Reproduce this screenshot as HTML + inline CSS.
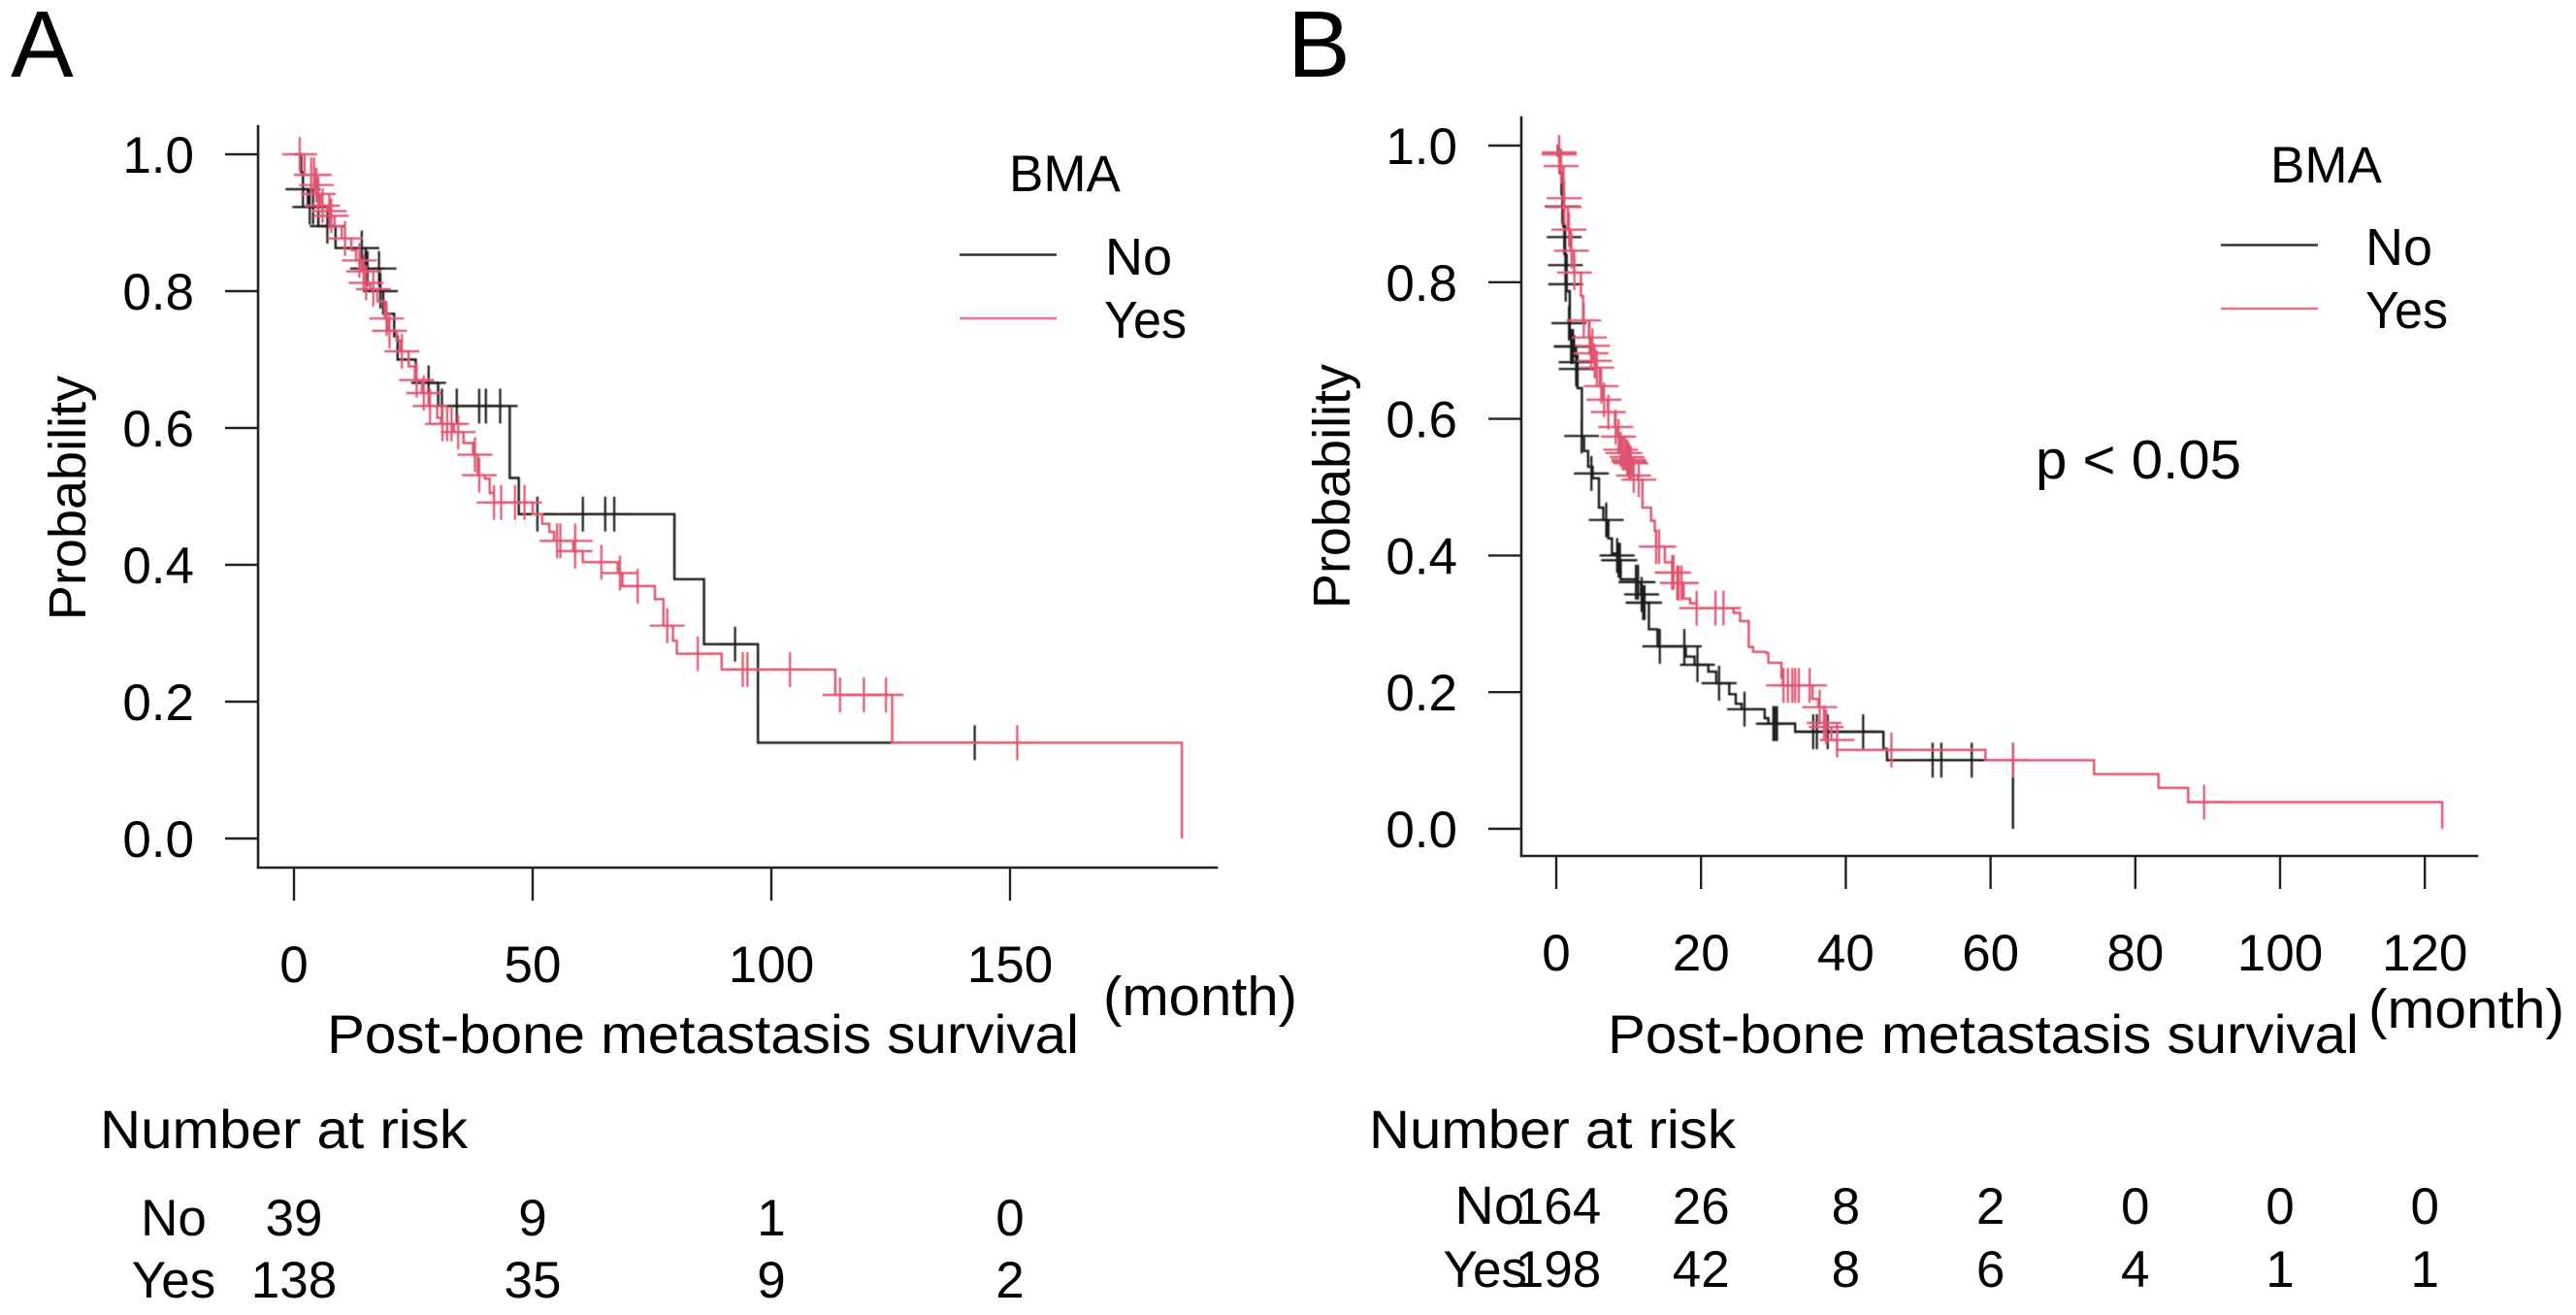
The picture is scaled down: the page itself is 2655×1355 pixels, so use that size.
<!DOCTYPE html>
<html lang="en">
<head>
<meta charset="utf-8">
<title>Post-bone metastasis survival by BMA</title>
<style>
html,body{margin:0;padding:0;background:#fff;}
svg{display:block;}
text{font-family:"Liberation Sans",Arial,sans-serif;fill:#000;}
</style>
</head>
<body>
<svg id="chart" xmlns="http://www.w3.org/2000/svg" width="2655" height="1355" viewBox="0 0 2655 1355">
  <defs>
    <filter id="soft" x="-5%" y="-5%" width="110%" height="110%"><feGaussianBlur stdDeviation="0.45"/></filter>
  </defs>
  <rect width="2655" height="1355" fill="#fff"/>

  <text x="11" y="79" font-size="97">A</text>
  <text x="1327" y="79" font-size="97">B</text>

  <text transform="translate(88 513) rotate(-90)" text-anchor="middle" font-size="54">Probability</text>
  <text transform="translate(1391 501) rotate(-90)" text-anchor="middle" font-size="54">Probability</text>

  <text x="337" y="1085" font-size="56" textLength="775" lengthAdjust="spacingAndGlyphs">Post-bone metastasis survival</text>
  <text x="1657" y="1085" font-size="56" textLength="774" lengthAdjust="spacingAndGlyphs">Post-bone metastasis survival</text>
  <text x="1137" y="1046" font-size="57" textLength="200" lengthAdjust="spacingAndGlyphs">(month)</text>
  <text x="2441" y="1059" font-size="57" textLength="202" lengthAdjust="spacingAndGlyphs">(month)</text>

  <text x="1040" y="197" font-size="53">BMA</text>
  <line x1="989" x2="1089" y1="262.5" y2="262.5" stroke="#333" stroke-width="2.4"/>
  <line x1="989" x2="1089" y1="328" y2="328" stroke="#e8738a" stroke-width="2.6"/>
  <text x="1139" y="283" font-size="54">No</text>
  <text x="1138" y="348" font-size="54" textLength="85" lengthAdjust="spacingAndGlyphs">Yes</text>

  <text x="2340" y="188" font-size="53">BMA</text>
  <line x1="2289" x2="2389" y1="252.5" y2="252.5" stroke="#333" stroke-width="2.4"/>
  <line x1="2289" x2="2389" y1="318" y2="318" stroke="#e8738a" stroke-width="2.6"/>
  <text x="2438" y="273" font-size="54">No</text>
  <text x="2438" y="338" font-size="54" textLength="85" lengthAdjust="spacingAndGlyphs">Yes</text>

  <text x="2098" y="493" font-size="57" textLength="212" lengthAdjust="spacingAndGlyphs">p &lt; 0.05</text>

  <text x="103" y="1183" font-size="56" textLength="379" lengthAdjust="spacingAndGlyphs">Number at risk</text>
  <text x="1411" y="1183" font-size="56" textLength="378" lengthAdjust="spacingAndGlyphs">Number at risk</text>
  <text x="179" y="1273" font-size="53" text-anchor="middle">No</text>
  <text x="179" y="1337" font-size="53" text-anchor="middle">Yes</text>
  <text x="1571" y="1261" font-size="56" text-anchor="end">No</text>
  <text x="1574" y="1326" font-size="53" text-anchor="end">Yes</text>

  <g id="marks"></g>
</svg>
<script>
// shared y axis ticks
const probabilityTicks = [0, 0.2, 0.4, 0.6, 0.8, 1];
const probabilityTickLabels = ['0.0', '0.2', '0.4', '0.6', '0.8', '1.0'];

// Panel A
const aMonthTicks = [0, 50, 100, 150];
const aRiskNo = [39, 9, 1, 0];
const aRiskYes = [138, 35, 9, 2];
const aNoTimes = [1.5,1.9,2.9,5.1,8.7,15,18,18.7,21,21.7,25.5,30.2,45.2,47.1,79.7,85.9,97.2,142.6];
const aNoSurv = [.974,.949,.923,.895,.863,.833,.8,.767,.734,.7,.666,.632,.527,.474,.379,.284,.14,.14];
const aNoCensorTimes = [1.9,3.3,4,7,14.2,15.4,17.8,18.1,28.2,31,34.1,38.8,40.2,43.2,51,60.5,65.2,67.1,92.4,142.6];
const aNoCensorSurv = [.949,.923,.923,.895,.863,.833,.833,.8,.666,.632,.632,.632,.632,.632,.474,.474,.474,.474,.284,.14];
const aYesTimes = [2.2,4.5,5,5.5,7,7.6,8.5,10,12,13,14.2,14.9,16,17.5,19,19.8,21.5,22.3,24,25.3,26.8,28.2,30,30.8,33.5,35.5,37.5,38.5,40,41,41.9,50,52,53.5,54.5,58.5,60.5,67.8,68.8,75.6,77.4,79.4,80.2,89.6,113.4,125.3,186,186];
const aYesSurv = [.97,.955,.942,.925,.917,.91,.895,.877,.86,.845,.829,.812,.803,.785,.76,.742,.728,.712,.69,.67,.651,.632,.615,.606,.594,.578,.561,.531,.526,.505,.491,.474,.46,.448,.435,.42,.404,.388,.369,.35,.311,.289,.27,.247,.21,.14,0,0];
const aYesCensorTimes = [1.2,3.6,4.2,4.7,5.1,6,7.4,7.8,10.7,13.7,14.6,15.1,16.6,19.4,20,22.6,25.7,27.2,28.5,31.1,32.1,33,34.4,37.9,38.8,41.9,43.4,46.3,48.3,55.1,55.8,58.9,58.9,64.4,68.3,72,78.2,84.6,94,95,103.9,114.4,119.4,124,151.5];
const aYesCensorSurv = [1,.97,.97,.955,.942,.925,.917,.91,.877,.845,.829,.812,.803,.76,.742,.712,.67,.651,.632,.606,.606,.606,.594,.561,.531,.491,.491,.491,.491,.435,.435,.435,.42,.404,.388,.369,.311,.27,.247,.247,.247,.21,.21,.21,.14];

// Panel B
const bMonthTicks = [0, 20, 40, 60, 80, 100, 120];
const bRiskNo = [164, 26, 8, 2, 0, 0, 0];
const bRiskYes = [198, 42, 8, 6, 4, 1, 1];
const bNoTimes = [.24,.5,.72,.96,1.2,1.44,1.86,2.45,2.93,3.54,3.83,4.4,5.03,5.9,6.5,7.2,7.7,8.6,8.9,11.2,11.7,12,12.8,14,17.9,19.1,21,22.1,23.9,24.8,25.6,28.8,29.3,33,45.2,45.7,63.1,63.1];
const bNoSurv = [.985,.96,.929,.882,.84,.787,.721,.692,.645,.574,.553,.53,.513,.47,.452,.425,.403,.393,.365,.361,.343,.331,.292,.267,.252,.24,.23,.213,.197,.183,.175,.162,.154,.142,.117,.1004,0,0];
const bNoCensorTimes = [.85,1.1,1.26,1.3,1.75,2.05,2.15,2.3,2.75,2.75,3.5,4.85,6.9,8.4,8.6,8.8,11,11.3,11.8,12,12.2,14.3,17.7,19.5,22.5,26,30,30.2,30.5,35.5,36,37.5,42.4,52,53.2,57.4,63.1];
const bNoCensorSurv = [.911,.866,.825,.797,.74,.706,.706,.706,.683,.673,.575,.52,.452,.4,.393,.393,.361,.361,.343,.331,.331,.267,.267,.24,.213,.175,.154,.154,.154,.142,.142,.142,.142,.1004,.1004,.1004,.1004];
const bYesTimes = [.35,.6,1,1.05,1.6,2,2.45,3.4,3.7,4.5,4.9,5,5.2,5.5,6,6.5,7.1,8.1,8.5,8.8,9.1,9.7,10,10.6,11.3,11.9,13.1,13.6,13.8,15,16,16.8,17.6,18.5,19.4,24.5,25.4,26.6,27.2,29,29.3,31.1,31.3,35.4,36.2,37,37.3,38,38.8,59.3,74.3,83.2,87.3,122.4,122.4];
const bYesSurv = [.99,.97,.923,.91,.877,.846,.814,.78,.744,.719,.707,.696,.685,.675,.648,.628,.61,.588,.574,.555,.55,.544,.537,.517,.511,.47,.451,.436,.413,.39,.375,.36,.337,.33,.323,.316,.304,.266,.259,.257,.243,.221,.21,.19,.178,.155,.149,.13,.1155,.1004,.08,.06,.039,0,0];
const bYesCensorTimes = [.4,.4,.67,1.1,1.1,1.75,2.1,2.5,3.8,4.6,5,4.8,5.3,5.6,6.2,6.6,7.2,8.2,8.6,8.9,9.2,9.5,9.8,10,10.1,10.3,10.7,11.4,13.8,14.2,16,16.2,16.7,16.9,17.3,19.4,22,23.1,31.4,32,32.6,33,33.5,35,36.4,37,37.3,38.8,46.3,63.1,89.5];
const bYesCensorSurv = [.99,.987,.97,.923,.91,.877,.846,.814,.744,.719,.707,.696,.685,.675,.648,.628,.61,.588,.574,.555,.55,.55,.544,.54,.537,.535,.517,.511,.413,.413,.375,.375,.36,.36,.36,.323,.323,.323,.21,.21,.21,.21,.21,.21,.178,.155,.149,.13,.1155,.1004,.039];

const SVG_NS = 'http://www.w3.org/2000/svg';
const marksLayer = document.getElementById('marks');
const AXIS_COLOR = '#222';
const NO_COLOR = '#1a1a1a';
const YES_COLOR = '#df5370';

function shape(parent, tag, props, text) {
  const node = document.createElementNS(SVG_NS, tag);
  for (const key in props) node.setAttribute(key, props[key]);
  if (text !== undefined) node.textContent = text;
  parent.appendChild(node);
  return node;
}

function stepPath(times, surv, xScale, yScale) {
  let d = 'M' + xScale(0) + ' ' + yScale(1);
  for (let i = 0; i < times.length; i++) {
    d += 'H' + xScale(times[i]).toFixed(1) + 'V' + yScale(surv[i]).toFixed(1);
  }
  return d;
}

function drawCurve(group, name, times, surv, censorT, censorS, color, xScale, yScale) {
  const line = shape(group, 'path', {d: stepPath(times, surv, xScale, yScale), fill: 'none', stroke: color, 'stroke-width': 2.4, 'stroke-linejoin': 'miter'});
  
  
  for (let i = 0; i < censorT.length; i++) {
    const cx = xScale(censorT[i]);
    const cy = yScale(censorS[i]);
    const mark = shape(group, 'path', {d: 'M' + (cx - 18).toFixed(1) + ' ' + cy.toFixed(1) + 'h36M' + cx.toFixed(1) + ' ' + (cy - 18).toFixed(1) + 'v36', fill: 'none', stroke: color, 'stroke-width': 2.2});
    
    
  }
}

function drawPanel(p) {
  const group = shape(marksLayer, 'g', {});
  
  
  const xScale = t => p.x0 + t * p.xPerMonth;
  const yScale = s => p.y0 - s * p.yPerUnit;

  const yAxis = shape(group, 'line', {x1: p.axisX, x2: p.axisX, y1: p.axisTop, y2: p.axisY, stroke: AXIS_COLOR, 'stroke-width': 2.6, 'stroke-linecap': 'square'});
  
  
  const xAxis = shape(group, 'line', {x1: p.axisX, x2: p.axisRight, y1: p.axisY, y2: p.axisY, stroke: AXIS_COLOR, 'stroke-width': 2.6, 'stroke-linecap': 'square'});
  
  

  probabilityTicks.forEach((value, i) => {
    const y = yScale(value);
    const tick = shape(group, 'line', {x1: p.axisX - 34, x2: p.axisX, y1: y, y2: y, stroke: AXIS_COLOR, 'stroke-width': 2.4});
    
    
    const label = shape(group, 'text', {x: p.yLabelX, y: y + 19, 'text-anchor': 'end', 'font-size': 53}, probabilityTickLabels[i]);
    
    
  });

  p.monthTicks.forEach((month, i) => {
    const x = xScale(month);
    const tick = shape(group, 'line', {x1: x, x2: x, y1: p.axisY, y2: p.axisY + 34, stroke: AXIS_COLOR, 'stroke-width': 2.4});
    
    
    const label = shape(group, 'text', {x: x, y: p.xLabelY, 'text-anchor': 'middle', 'font-size': 53}, String(month));
    
    
    const riskNo = shape(group, 'text', {x: x + (i === 0 ? p.riskShift : 0), y: p.riskNoY, 'text-anchor': 'middle', 'font-size': 53}, String(p.riskNo[i]));
    
    
    const riskYes = shape(group, 'text', {x: x + (i === 0 ? p.riskShift : 0), y: p.riskYesY, 'text-anchor': 'middle', 'font-size': 53}, String(p.riskYes[i]));
    
    
  });

  const curves = shape(group, 'g', {filter: 'url(#soft)'});
  
  
  drawCurve(curves, p.name + '-no', p.noT, p.noS, p.noCT, p.noCS, NO_COLOR, xScale, yScale);
  drawCurve(curves, p.name + '-yes', p.yesT, p.yesS, p.yesCT, p.yesCS, YES_COLOR, xScale, yScale);
}

drawPanel({
  name: 'panel-a', x0: 303, xPerMonth: 4.92, y0: 864, yPerUnit: 705,
  axisX: 266, axisY: 894, axisTop: 130, axisRight: 1254,
  yLabelX: 200, xLabelY: 1012, riskNoY: 1273, riskYesY: 1337, riskShift: 0,
  monthTicks: aMonthTicks, riskNo: aRiskNo, riskYes: aRiskYes,
  noT: aNoTimes, noS: aNoSurv, noCT: aNoCensorTimes, noCS: aNoCensorSurv,
  yesT: aYesTimes, yesS: aYesSurv, yesCT: aYesCensorTimes, yesCS: aYesCensorSurv
});
drawPanel({
  name: 'panel-b', x0: 1604, xPerMonth: 7.46, y0: 854, yPerUnit: 704,
  axisX: 1568, axisY: 882, axisTop: 121, axisRight: 2553,
  yLabelX: 1502, xLabelY: 1000, riskNoY: 1261, riskYesY: 1326, riskShift: 2,
  monthTicks: bMonthTicks, riskNo: bRiskNo, riskYes: bRiskYes,
  noT: bNoTimes, noS: bNoSurv, noCT: bNoCensorTimes, noCS: bNoCensorSurv,
  yesT: bYesTimes, yesS: bYesSurv, yesCT: bYesCensorTimes, yesCS: bYesCensorSurv
});
</script>
</body>
</html>
